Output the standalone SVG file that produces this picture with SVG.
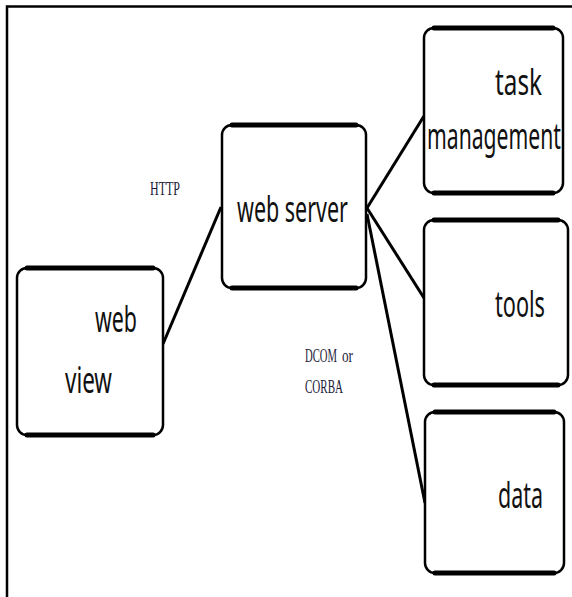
<svg xmlns="http://www.w3.org/2000/svg" width="572" height="597" viewBox="0 0 572 597">
<style>
.box{fill:#fff;stroke:#000;stroke-width:2.5}
.edge{stroke:#000;stroke-width:5;stroke-linecap:round}
.lbl{font-family:"Noto Sans","Open Sans",sans-serif;font-size:36px;fill:#111}
.sm{font-family:"Liberation Serif","Times New Roman",serif;font-size:19px;fill:#1c1c3a}
.conn{stroke:#000;stroke-width:3;fill:none}
</style>
<rect x="0" y="0" width="572" height="597" fill="#fff"/>
<path d="M7 597 V6.5 H572" fill="none" stroke="#000" stroke-width="2.5"/>
<g id="connectors">
<line class="conn" x1="163" y1="344" x2="221" y2="207"/>
<line class="conn" x1="367" y1="208" x2="424" y2="116"/>
<line class="conn" x1="367" y1="208" x2="424" y2="298"/>
<line class="conn" x1="367" y1="214" x2="425" y2="503"/>
</g>
<g id="webview">
<rect class="box" x="17" y="268" width="146" height="167" rx="10"/>
<line class="edge" x1="27" y1="268" x2="153" y2="268"/>
<line class="edge" x1="27" y1="435" x2="153" y2="435"/>
<text class="lbl" x="95" y="332" textLength="42" lengthAdjust="spacingAndGlyphs">web</text>
<text class="lbl" x="65" y="393" textLength="47" lengthAdjust="spacingAndGlyphs">view</text>
</g>
<g id="webserver">
<rect class="box" x="222" y="125" width="144" height="163" rx="10"/>
<line class="edge" x1="232" y1="125" x2="356" y2="125"/>
<line class="edge" x1="232" y1="288" x2="356" y2="288"/>
<text class="lbl" x="237" y="222" textLength="111" lengthAdjust="spacingAndGlyphs">web server</text>
</g>
<g id="task">
<rect class="box" x="424" y="28" width="139" height="165" rx="10"/>
<line class="edge" x1="434" y1="28" x2="553" y2="28"/>
<line class="edge" x1="434" y1="193" x2="553" y2="193"/>
<text class="lbl" x="495" y="95" textLength="47" lengthAdjust="spacingAndGlyphs">task</text>
<text class="lbl" x="427" y="149" textLength="134" lengthAdjust="spacingAndGlyphs">management</text>
</g>
<g id="tools">
<rect class="box" x="424" y="220" width="144" height="165" rx="10"/>
<line class="edge" x1="434" y1="220" x2="558" y2="220"/>
<line class="edge" x1="434" y1="385" x2="558" y2="385"/>
<text class="lbl" x="495" y="317" textLength="50" lengthAdjust="spacingAndGlyphs">tools</text>
</g>
<g id="data">
<rect class="box" x="425" y="412" width="139" height="161" rx="10"/>
<line class="edge" x1="435" y1="412" x2="554" y2="412"/>
<line class="edge" x1="435" y1="573" x2="554" y2="573"/>
<text class="lbl" x="498" y="508" textLength="45" lengthAdjust="spacingAndGlyphs">data</text>
</g>
<g id="labels">
<text class="sm" x="150" y="195" textLength="30" lengthAdjust="spacingAndGlyphs">HTTP</text>
<text class="sm" x="305" y="362" textLength="32" lengthAdjust="spacingAndGlyphs">DCOM</text>
<text class="sm" x="342" y="362" font-size="14" textLength="11" lengthAdjust="spacingAndGlyphs">or</text>
<text class="sm" x="305" y="393" textLength="38" lengthAdjust="spacingAndGlyphs">CORBA</text>
</g>
</svg>
